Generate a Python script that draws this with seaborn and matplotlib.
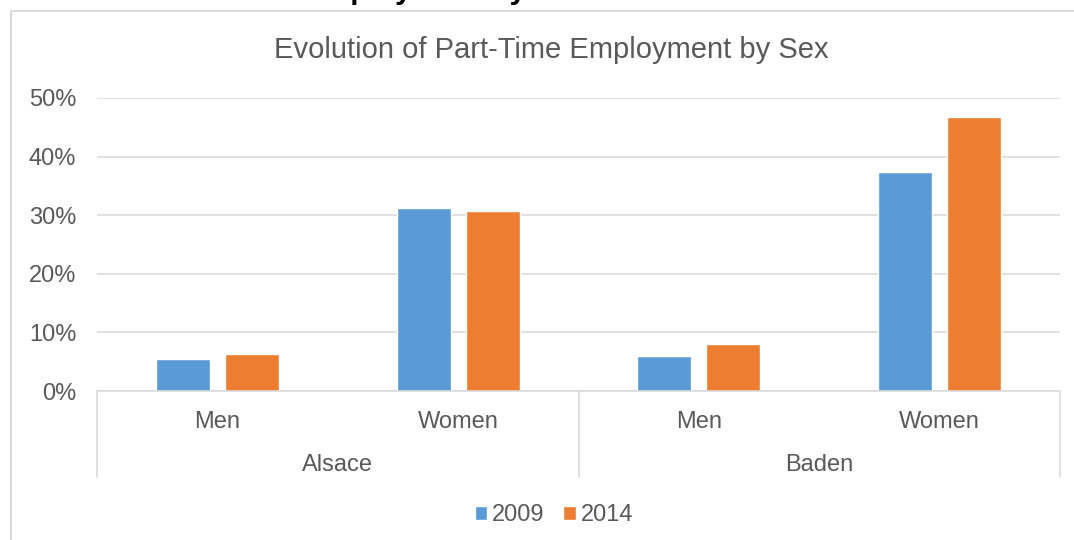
import matplotlib
matplotlib.use("Agg")
import matplotlib.pyplot as plt
import matplotlib.transforms as mtransforms
from matplotlib.lines import Line2D
import seaborn as sns
import pandas as pd

# ---- data ----
regions = ["Alsace", "Alsace", "Baden", "Baden"]
sexes = ["Men", "Women", "Men", "Women"]
years = ["2009", "2014"]
values_2009 = [0.054, 0.313, 0.060, 0.374]
values_2014 = [0.063, 0.308, 0.080, 0.468]
yticks = [0.0, 0.1, 0.2, 0.3, 0.4, 0.5]
ytick_labels = ["0%", "10%", "20%", "30%", "40%", "50%"]
title = "Evolution of Part-Time Employment by Sex"
page_heading = "Part-Time Employment by Sex"

cats = [f"{r} {s}" for r, s in zip(regions, sexes)]
df = pd.DataFrame({
    "cat": cats * 2,
    "year": [years[0]] * 4 + [years[1]] * 4,
    "value": values_2009 + values_2014,
})

sns.set_theme(style="white")
plt.rcParams["font.family"] = ["Liberation Sans", "DejaVu Sans"]

W, H = 1074, 540
fig = plt.figure(figsize=(W / 100, H / 100), dpi=100)
ax = fig.add_axes([97 / W, (H - 391) / H, (1060 - 97) / W, (391 - 98) / H])

text_color = "#595959"
grid_color = "#d9d9d9"
palette = {"2009": "#5B9BD5", "2014": "#ED7D31"}

sns.barplot(data=df, x="cat", y="value", hue="year", order=cats,
            hue_order=years, palette=palette, width=0.573, gap=0.218,
            saturation=1, ax=ax, legend=True)

ax.set_ylim(0, 0.5)
ax.set_xlim(-0.5, 3.5)
ax.set_yticks(yticks)
ax.set_yticklabels(ytick_labels)
ax.yaxis.grid(True, color=grid_color, linewidth=1.1)
ax.set_axisbelow(True)
for s in ["top", "right", "left"]:
    ax.spines[s].set_visible(False)
ax.spines["bottom"].set_color(grid_color)
ax.spines["bottom"].set_linewidth(1.1)
ax.set_xlabel("")
ax.set_ylabel("")
ax.tick_params(axis="y", length=0, pad=15, labelsize=17, labelcolor=text_color)
ax.set_xticks(range(4))
ax.set_xticklabels(sexes)
ax.tick_params(axis="x", length=0, pad=22.5, labelsize=17, labelcolor=text_color)
for lab in ax.get_xticklabels():
    lab.set_va("center")

# group separators and region labels
trans = mtransforms.blended_transform_factory(ax.transData, ax.transAxes)
for xs in [-0.5, 1.5, 3.5]:
    ax.add_line(Line2D([xs, xs], [0, -0.2935], transform=trans, color=grid_color,
                       linewidth=1.1, clip_on=False))
for i, r in enumerate(["Alsace", "Baden"]):
    ax.text(0.5 + 2 * i, -0.253, r, transform=trans, ha="center", va="center",
            fontsize=17, color=text_color)

# legend
handles, labels = ax.get_legend_handles_labels()
ax.get_legend().remove()
fig.legend(handles, labels, loc="center", bbox_to_anchor=(554 / W, 1 - 515 / H),
           ncol=2, frameon=False, fontsize=17, labelcolor=text_color,
           handlelength=0.54, handleheight=0.54, handletextpad=0.2,
           columnspacing=0.8, borderpad=0, borderaxespad=0)

# title
fig.text(551 / W, 1 - 50 / H, title, ha="center", va="center", fontsize=21,
         color=text_color)

# chart frame
fig.add_artist(Line2D([11 / W, 1.0], [1 - 11 / H, 1 - 11 / H],
                      transform=fig.transFigure, color=grid_color, linewidth=1.4))
fig.add_artist(Line2D([11 / W, 11 / W], [1 - 11 / H, 0],
                      transform=fig.transFigure, color=grid_color, linewidth=1.4))

# cut-off page heading above chart (only descenders visible, as in the reference)
fig.text(588 / W, 1 + 1 / H, page_heading, ha="right", va="baseline",
         fontsize=21.5, fontweight="bold", color="black")

fig.savefig("out.png", dpi=100)
